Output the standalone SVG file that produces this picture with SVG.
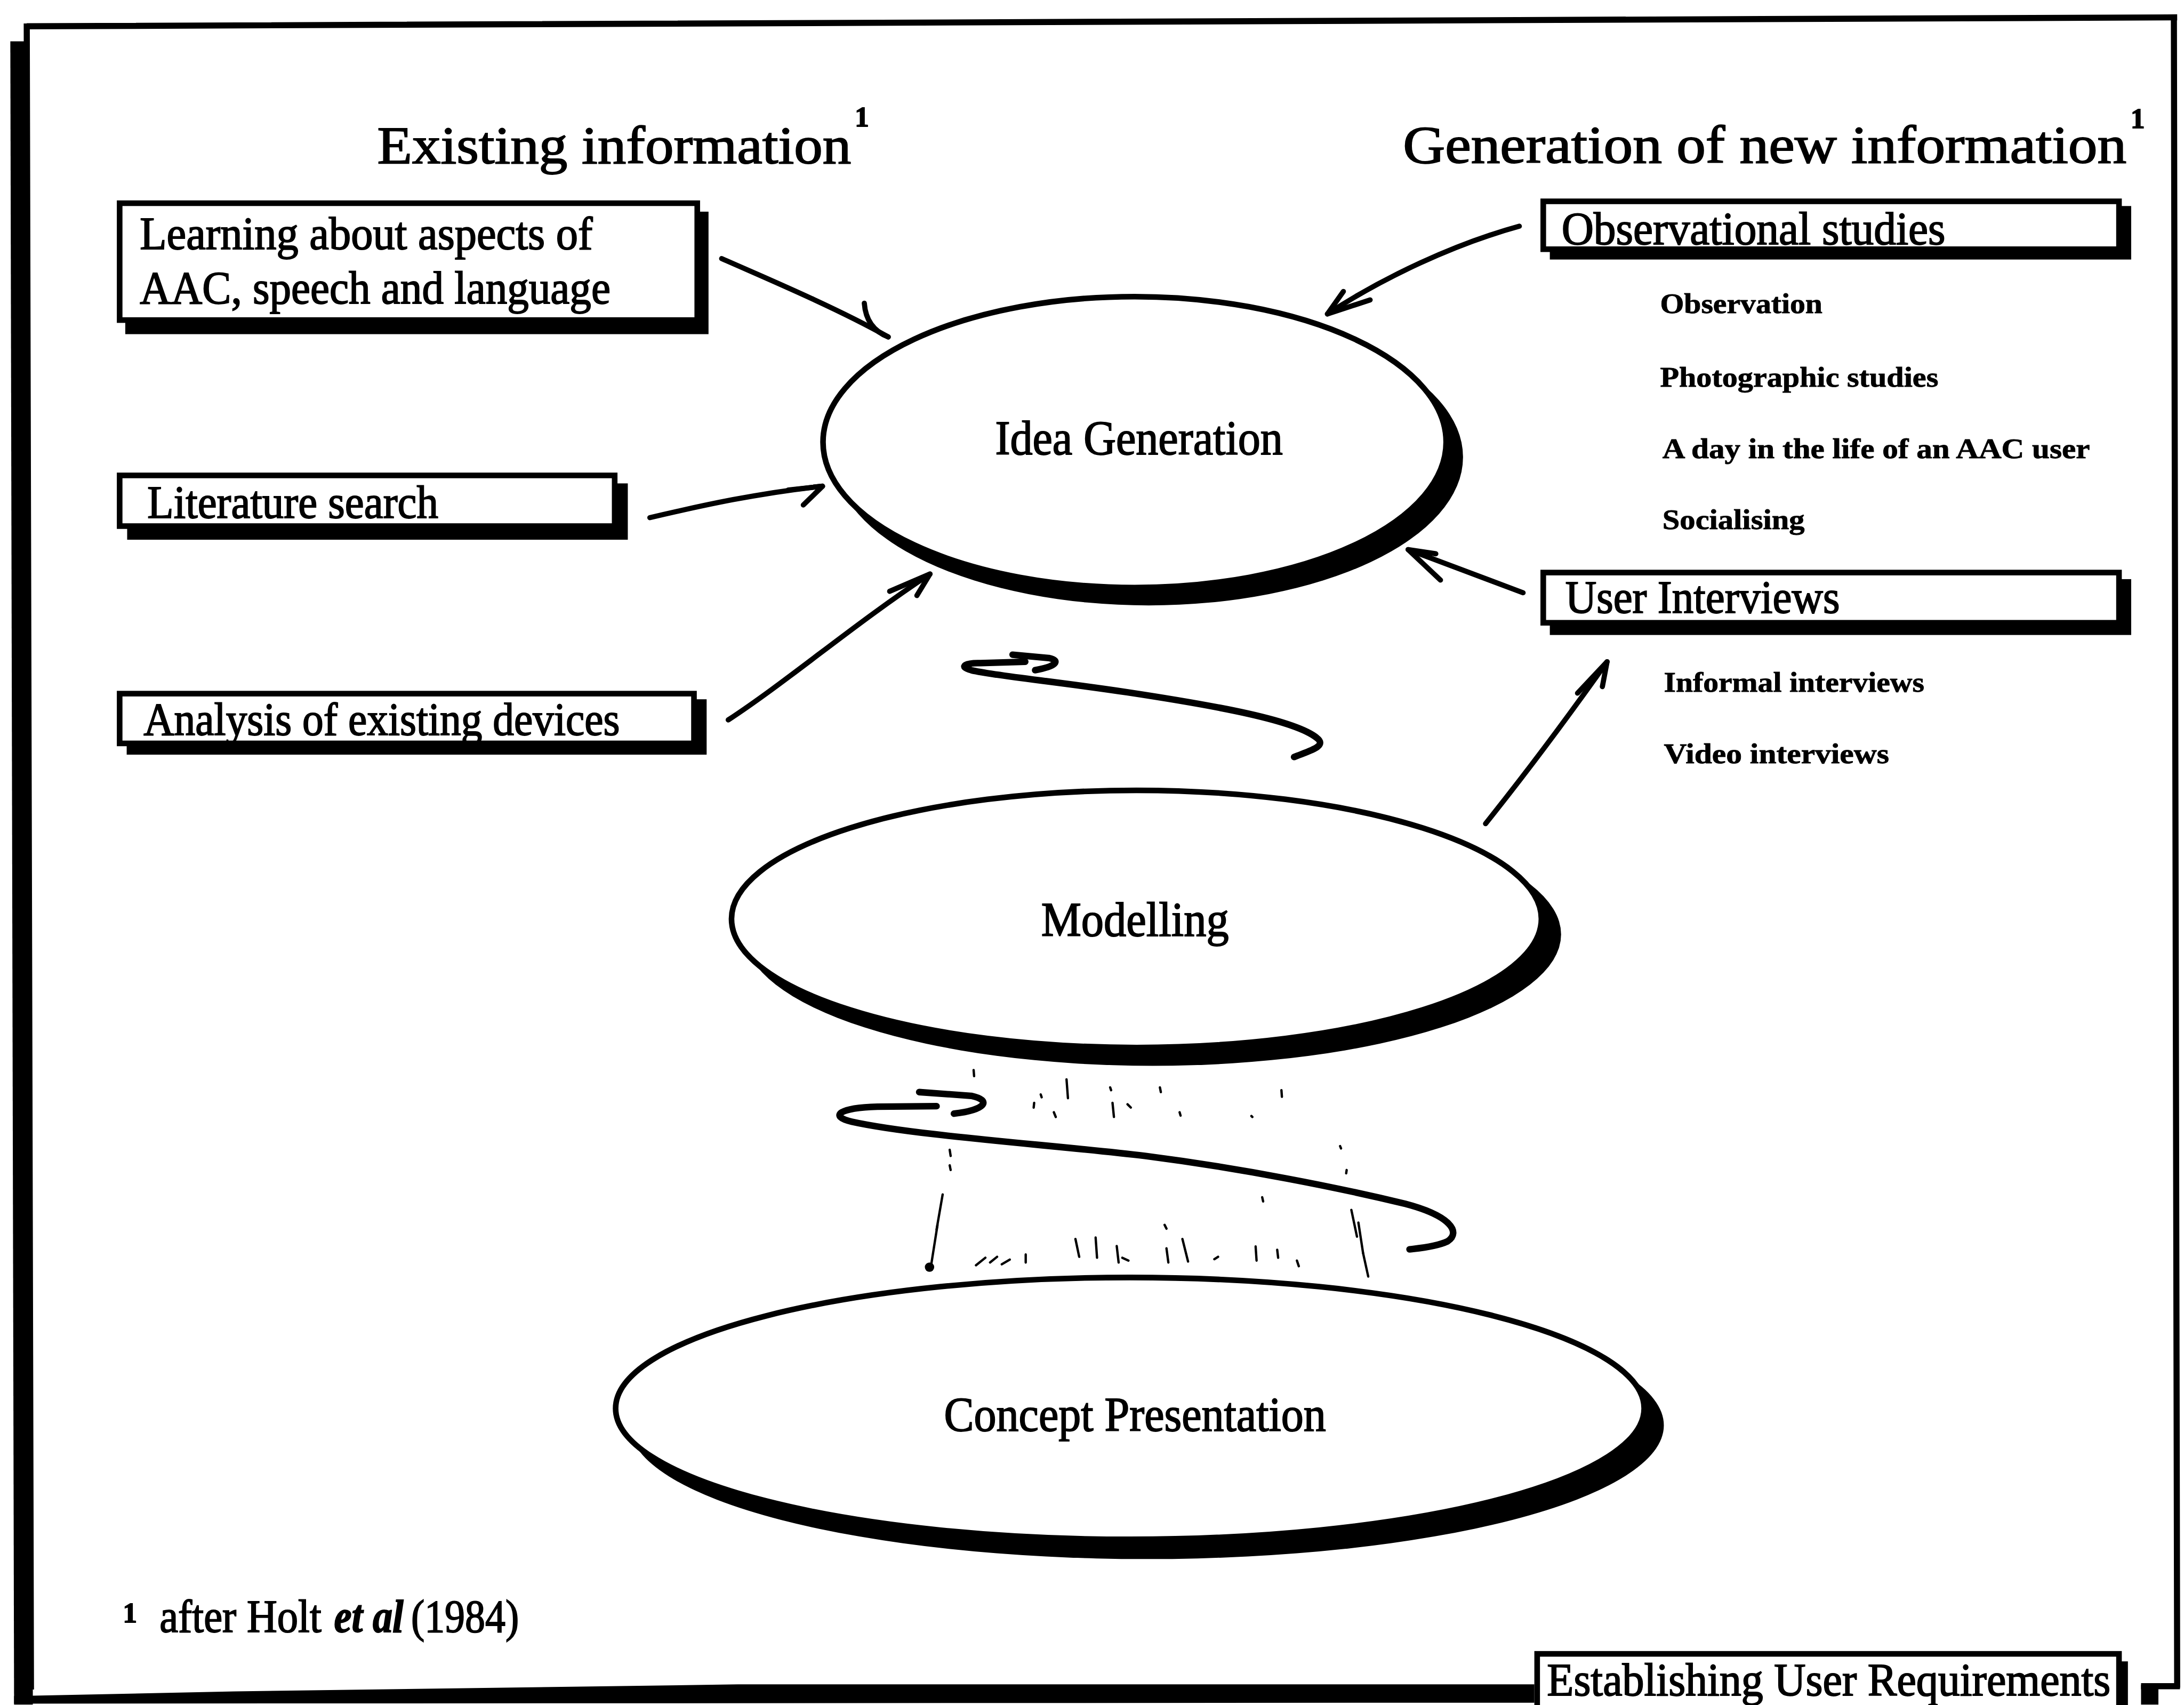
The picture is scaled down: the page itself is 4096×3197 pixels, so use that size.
<svg xmlns="http://www.w3.org/2000/svg" width="4096" height="3197" viewBox="0 0 4096 3197">
<style>
  .t { font-family: "Liberation Serif", "Times New Roman", serif; fill: #000; stroke: #000; stroke-width: 2.2px; }
  .head { font-size: 112px; }
  .sup { font-size: 60px; font-weight: bold; }
  .lbl { font-size: 98px; }
  .node { font-size: 104px; }
  .sub { font-size: 60px; font-weight: bold; stroke-width: 1px; }
  .foot { font-size: 98px; }
  .box { fill: #fff; stroke: #000; stroke-width: 12; }
  .ell { fill: #fff; stroke: #000; stroke-width: 12; }
  .shadow { fill: #000; stroke: none; }
  .conn { fill: none; stroke: #000; stroke-width: 11; stroke-linecap: round; stroke-linejoin: round; }
  .loop { fill: none; stroke: #000; stroke-width: 14; stroke-linecap: round; stroke-linejoin: round; }
  .speck { fill: none; stroke: #000; stroke-width: 5; stroke-linecap: round; }
</style>
<rect width="4096" height="3197" fill="#fff"/>
<g transform="scale(0.88)">

  <!-- page frame with heavy shadow on the left and bottom -->
  <g id="page-frame">
    <path class="shadow" d="M22,88 L62,88 L70,3632 L30,3632 Z"/>
    <path class="shadow" d="M30,3614 L500,3604 L1573,3589 L3270,3589 L3270,3628 L30,3630 Z"/>
    <path class="shadow" d="M4563,3590 L4600,3590 L4600,3632 L4563,3632 Z"/>
    <path d="M57,56 L4640,37 M4633,37 L4640,3596 M4563,3593 L4646,3593 M57,50 L66,3600" stroke="#000" stroke-width="13" fill="none"/>
  </g>

  <!-- column headings -->
  <g id="headings">
    <text class="t head" x="804" y="348" textLength="1010" lengthAdjust="spacingAndGlyphs">Existing information</text>
    <text class="t sup" x="1822" y="269">1</text>
    <text class="t head" x="2990" y="347" textLength="1542" lengthAdjust="spacingAndGlyphs">Generation of new information</text>
    <text class="t sup" x="4541" y="273">1</text>
  </g>

  <!-- sources of existing information -->
  <g id="box-learning">
    <rect class="shadow" x="267" y="451" width="1243" height="261"/>
    <rect class="box" x="255" y="433" width="1231" height="249"/>
    <text class="t lbl" x="298" y="531" textLength="965" lengthAdjust="spacingAndGlyphs">Learning about aspects of</text>
    <text class="t lbl" x="298" y="647" textLength="1003" lengthAdjust="spacingAndGlyphs">AAC, speech and language</text>
  </g>
  <g id="box-literature">
    <rect class="shadow" x="271" y="1030" width="1067" height="120"/>
    <rect class="box" x="255" y="1013" width="1055" height="108"/>
    <text class="t lbl" x="314" y="1103" textLength="620" lengthAdjust="spacingAndGlyphs">Literature search</text>
  </g>
  <g id="box-analysis">
    <rect class="shadow" x="270" y="1490" width="1236" height="118"/>
    <rect class="box" x="255" y="1478" width="1224" height="106"/>
    <text class="t lbl" x="306" y="1566" textLength="1015" lengthAdjust="spacingAndGlyphs">Analysis of existing devices</text>
  </g>

  <!-- sources of new information -->
  <g id="box-observational">
    <rect class="shadow" x="3303" y="439" width="1239" height="114"/>
    <rect class="box" x="3289" y="429" width="1227" height="102"/>
    <text class="t lbl" x="3328" y="520" textLength="818" lengthAdjust="spacingAndGlyphs">Observational studies</text>
  </g>
  <g id="list-observational">
    <text class="t sub" x="3538" y="667" textLength="346" lengthAdjust="spacingAndGlyphs">Observation</text>
    <text class="t sub" x="3538" y="824" textLength="593" lengthAdjust="spacingAndGlyphs">Photographic studies</text>
    <text class="t sub" x="3543" y="976" textLength="911" lengthAdjust="spacingAndGlyphs">A day in the life of an AAC user</text>
    <text class="t sub" x="3543" y="1127" textLength="303" lengthAdjust="spacingAndGlyphs">Socialising</text>
  </g>
  <g id="box-interviews">
    <rect class="shadow" x="3303" y="1234" width="1239" height="119"/>
    <rect class="box" x="3289" y="1220" width="1227" height="107"/>
    <text class="t lbl" x="3336" y="1306" textLength="585" lengthAdjust="spacingAndGlyphs">User Interviews</text>
  </g>
  <g id="list-interviews">
    <text class="t sub" x="3546" y="1474" textLength="555" lengthAdjust="spacingAndGlyphs">Informal interviews</text>
    <text class="t sub" x="3546" y="1626" textLength="480" lengthAdjust="spacingAndGlyphs">Video interviews</text>
  </g>

  <!-- process stages -->
  <g id="node-idea">
    <ellipse class="shadow" cx="2448" cy="974" rx="670" ry="316"/>
    <ellipse class="ell" cx="2418" cy="942" rx="664" ry="310"/>
    <text class="t node" x="2121" y="968" textLength="613" lengthAdjust="spacingAndGlyphs">Idea Generation</text>
  </g>
  <g id="node-modelling">
    <ellipse class="shadow" cx="2457" cy="1991" rx="870" ry="280"/>
    <ellipse class="ell" cx="2422" cy="1958" rx="863" ry="274" stroke-width="13"/>
    <text class="t node" x="2219" y="1994" textLength="400" lengthAdjust="spacingAndGlyphs">Modelling</text>
  </g>
  <g id="node-concept">
    <ellipse class="shadow" cx="2444" cy="3037" rx="1102" ry="285"/>
    <ellipse class="ell" cx="2408" cy="3001" rx="1096" ry="279"/>
    <text class="t node" x="2012" y="3049" textLength="814" lengthAdjust="spacingAndGlyphs">Concept Presentation</text>
  </g>

  <!-- arrows feeding the stages, and the iteration loops -->
  <g id="connectors">
    <path class="conn" d="M1538,551 C1650,600 1790,660 1893,718"/>
    <path class="conn" d="M1842,646 Q1846,700 1893,718"/>

    <path class="conn" d="M1385,1103 C1500,1076 1620,1050 1753,1036"/>
    <path class="conn" d="M1680,1044 L1753,1036 L1712,1076"/>

    <path class="conn" d="M1552,1534 C1680,1450 1820,1330 1982,1223"/>
    <path class="conn" d="M1896,1260 L1982,1223 L1954,1269"/>

    <path class="conn" d="M3238,482 C3100,520 2950,590 2829,669"/>
    <path class="conn" d="M2863,621 L2829,669 L2920,639"/>

    <path class="conn" d="M3246,1263 C3160,1230 3080,1200 3001,1171"/>
    <path class="conn" d="M3070,1236 L3001,1171 L3060,1180"/>

    <path class="conn" d="M3166,1755 C3250,1650 3340,1530 3425,1410"/>
    <path class="conn" d="M3362,1477 L3425,1410 L3415,1463"/>

    <path class="loop" d="M2758,1613 C2790,1600 2830,1590 2806,1572 C2760,1535 2600,1505 2402,1475 C2250,1452 2120,1440 2070,1428 C2040,1420 2060,1412 2090,1413 L2185,1410"/>
    <path class="loop" d="M2158,1395 L2235,1402 C2262,1408 2250,1420 2206,1428"/>

    <path class="loop" d="M1996,2357 L1870,2358 C1790,2360 1765,2378 1815,2390 C1950,2420 2250,2440 2440,2463 C2650,2490 2850,2530 2995,2565 C3090,2590 3115,2625 3085,2645 C3060,2657 3020,2660 3004,2662" stroke-width="15"/>
    <path class="loop" d="M1959,2327 L2070,2335 C2115,2345 2100,2365 2033,2373" stroke-width="15"/>
  </g>

  <!-- faint broken traces between the lower stages -->
  <g id="traces">
    <path class="speck" d="M2009,2545 L1996,2620" stroke-width="7"/>
    <path class="speck" d="M1998,2610 L1983,2705" stroke-width="13"/>
    <circle cx="1981" cy="2700" r="10" fill="#000"/>
    <path class="speck" d="M2880,2578 L2892,2635" stroke-width="6"/>
    <path class="speck" d="M2895,2605 L2905,2670" stroke-width="12"/>
    <path class="speck" d="M2905,2670 L2916,2720" stroke-width="9"/>
    <path class="speck" d="M2080,2696 L2100,2680 M2110,2690 L2125,2678 M2135,2694 L2152,2684 M2186,2673 L2186,2690 M2292,2640 L2300,2678 M2335,2637 L2338,2680 M2380,2655 L2384,2690 M2392,2680 L2405,2686 M2486,2660 L2490,2690 M2520,2640 L2532,2688 M2588,2683 L2596,2678 M2676,2656 L2678,2686 M2722,2663 L2724,2680 M2764,2686 L2768,2698 M2482,2610 L2486,2618 M2690,2551 L2692,2560"/>
    <path class="speck" d="M2075,2280 L2076,2293 M2273,2300 L2276,2340 M2366,2317 L2368,2323 M2472,2317 L2474,2327 M2731,2323 L2732,2337 M2218,2332 L2220,2338 M2204,2350 L2203,2360 M2371,2350 L2374,2380 M2403,2353 L2410,2360 M2246,2370 L2250,2380 M2514,2370 L2516,2377 M2667,2378 L2669,2380 M2024,2450 L2026,2463 M2024,2483 L2026,2493 M2856,2442 L2858,2447 M2870,2493 L2869,2500"/>
  </g>

  <!-- footnote -->
  <g id="footnote">
    <text class="t sup" x="262" y="3457">1</text>
    <text class="t foot" x="340" y="3477" textLength="345" lengthAdjust="spacingAndGlyphs">after Holt</text>
    <text class="t foot" x="712" y="3477" font-style="italic" font-weight="bold" textLength="148" lengthAdjust="spacingAndGlyphs">et al</text>
    <text class="t foot" x="876" y="3477" textLength="230" lengthAdjust="spacingAndGlyphs">(1984)</text>
  </g>

  <!-- sheet title tab -->
  <g id="title-label">
    <rect class="shadow" x="4500" y="3540" width="35" height="120"/>
    <rect class="box" x="3276" y="3524" width="1240" height="150" stroke-width="14"/>
    <text class="t lbl" x="3297" y="3612" textLength="1201" lengthAdjust="spacingAndGlyphs">Establishing User Requirements</text>
  </g>
</g>
</svg>
